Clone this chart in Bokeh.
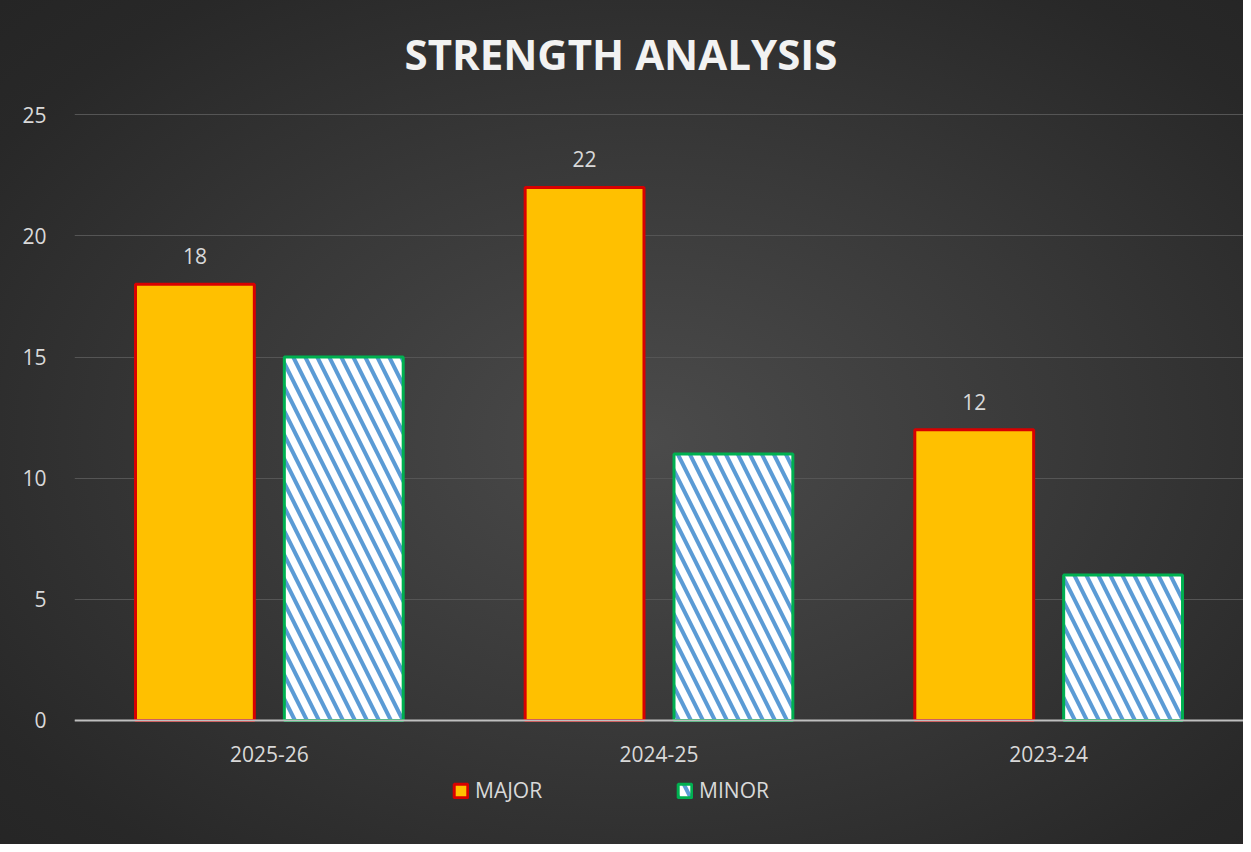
from bokeh.plotting import figure
from bokeh.models import (ColumnDataSource, FactorRange, Range1d, FixedTicker,
                          Legend, LegendItem)
from bokeh.transform import dodge
from bokeh.core.properties import value
from bokeh.embed import file_html
from bokeh.resources import INLINE

# ---- data ----
categories = ["2025-26", "2024-25", "2023-24"]
major = [18, 22, 12]
minor = [15, 11, 6]
series_names = ["MAJOR", "MINOR"]
y_ticks = [0, 5, 10, 15, 20, 25]
title_text = "STRENGTH ANALYSIS"

source = ColumnDataSource(dict(
    cat=categories,
    major=major,
    minor=minor,
    major_label=[str(v) for v in major],
))

FONT = "Open Sans"
TXT = "#d9d9d9"
W, H = 1243, 844

p = figure(
    x_range=FactorRange(*categories),
    y_range=Range1d(-5.12, 26),
    width=W, height=H,
    output_backend="svg",
    toolbar_location=None,
    min_border_left=74, min_border_right=0,
    min_border_top=90, min_border_bottom=0,
)
p.background_fill_color = None
p.border_fill_color = None
p.outline_line_color = None
p.styles = {"background": "radial-gradient(ellipse at 52% 52%, #4b4b4b 0%, #393939 45%, #282828 85%, #252525 100%)"}

# title
p.title.text = title_text
p.title.align = "left"
p.title.offset = 330
p.title.text_font = FONT
p.title.text_font_style = "bold"
p.title.text_font_size = "42px"
p.title.text_color = "#f2f2f2"
p.title.standoff = 18

# axes
p.yaxis.ticker = FixedTicker(ticks=y_ticks)
p.yaxis.axis_line_color = None
p.yaxis.major_tick_line_color = None
p.yaxis.minor_tick_line_color = None
p.yaxis.major_label_text_font = FONT
p.yaxis.major_label_text_font_size = "21px"
p.yaxis.major_label_text_color = TXT
p.yaxis.major_label_standoff = 22

p.xaxis.fixed_location = 0
p.xaxis.axis_line_color = "#bfbfbf"
p.xaxis.axis_line_width = 2
p.xaxis.major_tick_line_color = None
p.xaxis.minor_tick_line_color = None
p.xaxis.major_label_text_font = FONT
p.xaxis.major_label_text_font_size = "21px"
p.xaxis.major_label_text_color = TXT
p.xaxis.major_label_standoff = 20

p.xgrid.grid_line_color = None
p.ygrid.grid_line_color = "#555555"
p.ygrid.grid_line_width = 1

# bars
r_major = p.vbar(x=dodge("cat", -0.191, range=p.x_range), top="major", width=0.305,
                 source=source, fill_color="#ffc000", line_color="#d80000", line_width=3)
r_minor = p.vbar(x=dodge("cat", 0.191, range=p.x_range), top="minor", width=0.305,
                 source=source, fill_color="white", line_color="#00b050", line_width=3,
                 hatch_pattern="left_diagonal_line", hatch_color="#5b9bd5",
                 hatch_scale=24, hatch_weight=4)

# value labels
p.text(x=dodge("cat", -0.191, range=p.x_range), y="major", text="major_label",
       source=source, text_align="center", text_baseline="alphabetic", y_offset=-28,
       text_font=value(FONT), text_font_size="21px", text_color=TXT)

legend = Legend(items=[LegendItem(label=series_names[0], renderers=[r_major]),
                       LegendItem(label=series_names[1], renderers=[r_minor])],
                orientation="horizontal", location=(378, 40),
                glyph_width=17, glyph_height=17, label_standoff=6, spacing=134,
                padding=0, margin=0,
                background_fill_alpha=0, border_line_alpha=0,
                label_text_font=FONT, label_text_font_size="21px", label_text_color=TXT)
p.add_layout(legend, "center")

open("out.html", "w").write(file_html(p, INLINE))
